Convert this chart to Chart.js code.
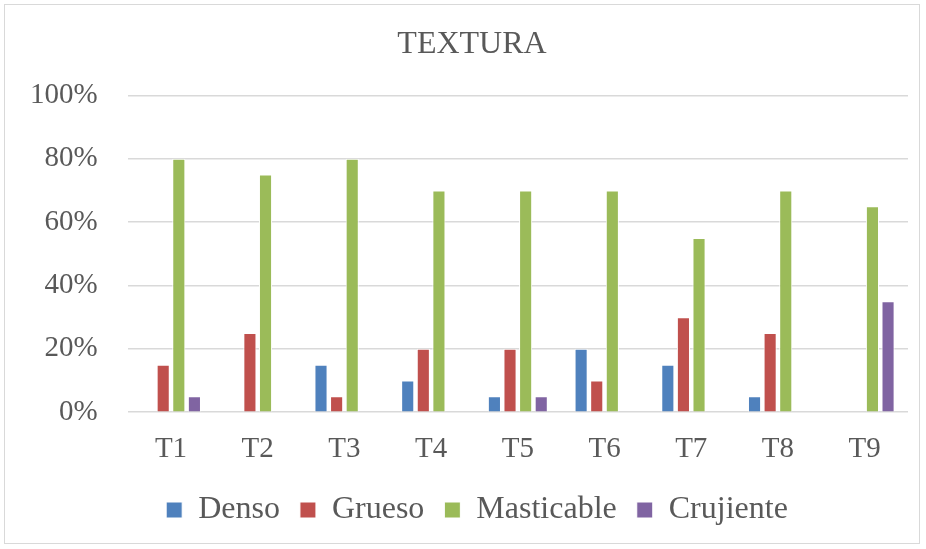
<!DOCTYPE html>
<html>
<head>
<meta charset="utf-8">
<script src="https://cdn.jsdelivr.net/npm/chart.js@4"></script>
<style>
    html, body { margin: 0; padding: 0; background: #fff; }
    .frame {
        position: absolute;
        left: 4px; top: 4px;
        width: 916px; height: 540px;
        border: 1px solid #d9d9d9;
        box-sizing: border-box;
    }
    canvas { position: absolute; left: 0; top: 0; }
</style>
</head>
<body>
<div class="frame"></div>
<canvas id="chart" width="926" height="549"></canvas>
<script>
const categories = ['T1', 'T2', 'T3', 'T4', 'T5', 'T6', 'T7', 'T8', 'T9'];
const denso = [0, 0, 15, 10, 5, 20, 15, 5, 0];
const grueso = [15, 25, 5, 20, 20, 10, 30, 25, 0];
const masticable = [80, 75, 80, 70, 70, 70, 55, 70, 65];
const crujiente = [5, 0, 0, 0, 5, 0, 0, 0, 35];
const yTicks = [0, 20, 40, 60, 80, 100];

const textColor = '#595959';
const serif = '"Liberation Serif", "Times New Roman", serif';

function series(label, data, color) {
    return {
        label,
        data,
        backgroundColor: color,
        borderColor: '#ffffff',
        borderWidth: 1,
        categoryPercentage: 0.72,
        barPercentage: 0.84,
    };
}

// title and legend sit a bit right of the canvas centre in the original
const nudgeBlocks = {
    id: 'nudgeBlocks',
    afterLayout(chart) {
        chart.titleBlock.left += 18;
        chart.titleBlock.right += 18;
        chart.legend.left += 23;
        chart.legend.right += 23;
    },
};

new Chart(document.getElementById('chart'), {
    type: 'bar',
    data: {
        labels: categories,
        datasets: [
            series('Denso', denso, '#4f81bd'),
            series('Grueso', grueso, '#c0504d'),
            series('Masticable', masticable, '#9bbb59'),
            series('Crujiente', crujiente, '#8064a2'),
        ],
    },
    options: {
        responsive: false,
        animation: false,
        layout: { padding: { top: 14, left: 0, right: 18, bottom: 13 } },
        plugins: {
            title: {
                display: true,
                text: 'TEXTURA',
                color: textColor,
                font: { family: serif, size: 32, weight: 'normal' },
                padding: { top: 11, bottom: 32 },
            },
            legend: {
                position: 'bottom',
                labels: {
                    color: textColor,
                    font: { family: serif, size: 32 },
                    boxWidth: 16,
                    boxHeight: 16,
                    padding: 20,
                },
            },
            tooltip: { enabled: false },
        },
        scales: {
            y: {
                min: 0,
                max: 100,
                afterBuildTicks: (axis) => {
                    axis.ticks = yTicks.map((v) => ({ value: v }));
                },
                border: { display: false },
                grid: { color: '#d9d9d9', lineWidth: 1.5, drawTicks: false },
                ticks: {
                    color: textColor,
                    font: { family: serif, size: 29 },
                    padding: 30,
                    callback: (v) => v + '%',
                },
            },
            x: {
                border: { display: false },
                grid: { display: false },
                ticks: {
                    color: textColor,
                    font: { family: serif, size: 29 },
                    padding: 12,
                },
                afterFit: (axis) => {
                    axis.height -= 5;
                },
            },
        },
    },
    plugins: [nudgeBlocks],
});
</script>
</body>
</html>
